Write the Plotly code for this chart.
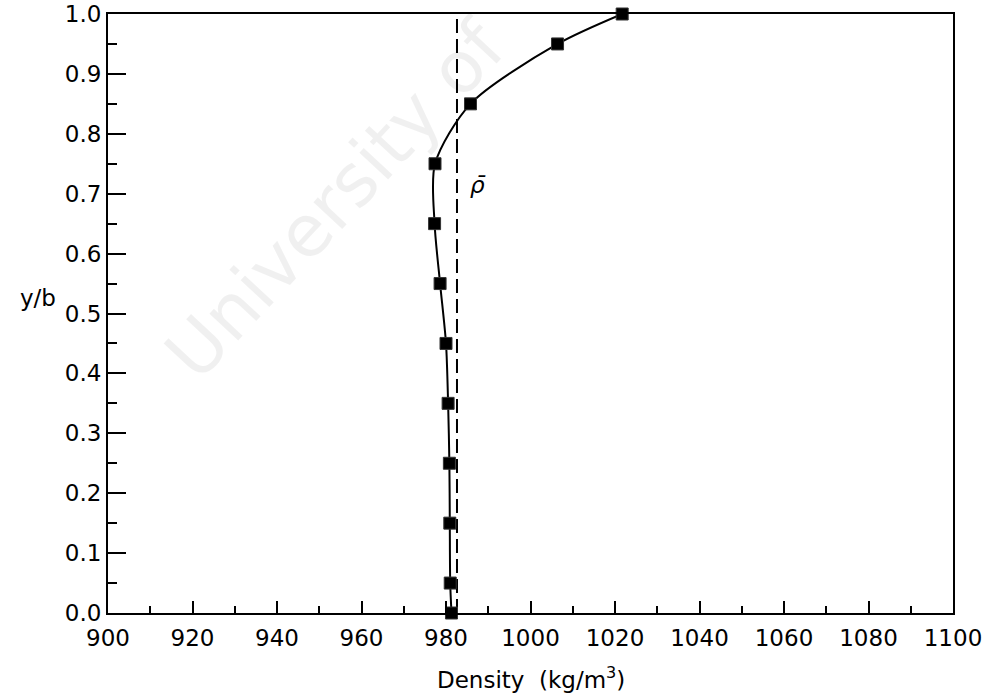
import plotly.graph_objects as go

# Data
y_over_b = [0.0, 0.05, 0.15, 0.25, 0.35, 0.45, 0.55, 0.65, 0.75, 0.85, 0.95, 1.0]
density = [981.3, 981.0, 980.9, 980.8, 980.5, 980.0, 978.6, 977.3, 977.4, 985.8, 1006.4, 1021.7]
rho_bar = 982.6
x_ticks = list(range(900, 1101, 20))
y_ticks = [round(0.1 * i, 1) for i in range(11)]

FONT = "DejaVu Sans"
FS = 23

fig = go.Figure()

fig.add_trace(go.Scatter(
    x=[rho_bar, rho_bar], y=[0, 1], mode="lines",
    line=dict(color="black", width=2, dash="14px,6px"),
    hoverinfo="skip", cliponaxis=False,
))
fig.add_trace(go.Scatter(
    x=density, y=y_over_b, mode="lines+markers",
    line=dict(color="black", width=2, shape="spline", smoothing=0.8),
    marker=dict(symbol="square", size=12, color="black",
                line=dict(color="#333", width=1)),
    cliponaxis=False,
))

axis_common = dict(
    showgrid=False, zeroline=False, showline=True, linecolor="black",
    linewidth=2, mirror=True, ticks="inside", tickcolor="black",
    tickfont=dict(family=FONT, size=FS, color="black"),
    automargin=False, ticklabeloverflow="allow",
)

fig.update_xaxes(
    range=[900, 1100], tickvals=x_ticks, ticktext=[str(v) for v in x_ticks],
    ticklen=12, tickwidth=1.5, ticklabelstandoff=3,
    minor=dict(dtick=10, ticklen=7, tickcolor="black", ticks="inside", tickwidth=1.5),
    **axis_common,
)
fig.update_yaxes(
    range=[0, 1], tickvals=y_ticks, ticktext=[f"{v:.1f}" for v in y_ticks],
    ticklen=18, tickwidth=1.5,
    minor=dict(dtick=0.05, ticklen=9, tickcolor="black", ticks="inside", tickwidth=1.5),
    **axis_common,
)

W, H = 988, 694
L, R, T, B = 108, 35, 14, 81
pw, ph = W - L - R, H - T - B

def px_x(px):
    return (px - L) / pw

def px_y(py):
    return (H - B - py) / ph

annotations = [
    # watermark
    dict(text="University of", xref="paper", yref="paper",
         x=px_x(335), y=px_y(200), showarrow=False, textangle=-47,
         font=dict(family=FONT, size=72, color="rgba(0,0,0,0.06)"),
         xanchor="center", yanchor="middle"),
    dict(text="y/b", xref="paper", yref="paper", x=px_x(58), y=px_y(298),
         xanchor="right", yanchor="middle", showarrow=False,
         font=dict(family=FONT, size=FS, color="black")),
    dict(text="Density  (kg/m<sup>3</sup>)", xref="paper", yref="paper",
         x=px_x(531), y=px_y(678), xanchor="center", yanchor="middle",
         showarrow=False, font=dict(family=FONT, size=FS, color="black")),
    dict(text="<i>ρ̄</i>", xref="x", yref="y", x=987.5, y=0.715,
         xanchor="center", yanchor="middle", showarrow=False,
         font=dict(family=FONT, size=FS, color="black")),
]

fig.update_layout(
    width=W, height=H, margin=dict(l=L, r=R, t=T, b=B),
    paper_bgcolor="white", plot_bgcolor="white", showlegend=False,
    annotations=annotations,
)

fig.write_html("out.html")
